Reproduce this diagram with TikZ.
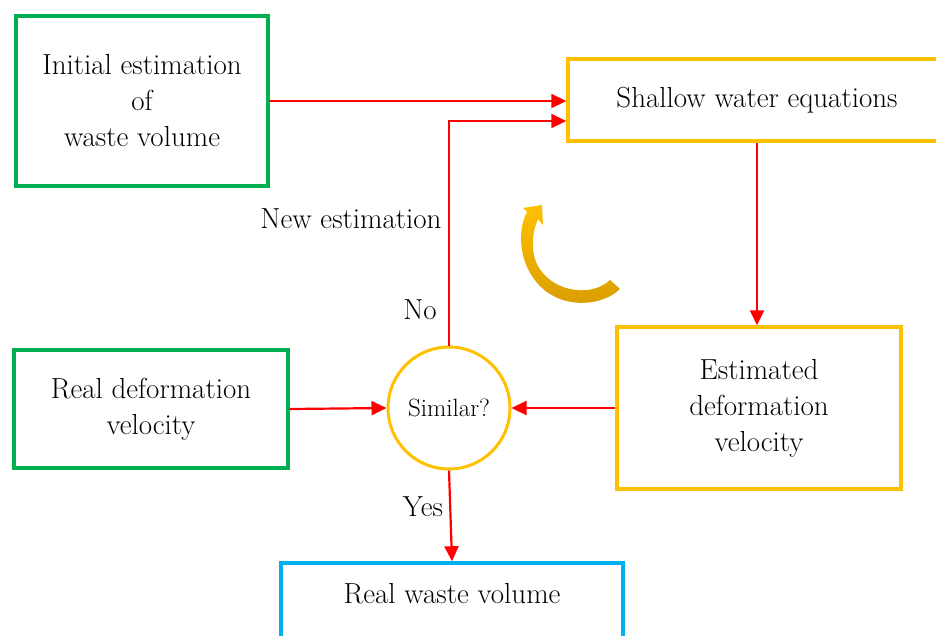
\documentclass[tikz,border=0pt]{standalone}
\usepackage{fontspec}
\usetikzlibrary{arrows.meta,calc}
\definecolor{grn}{RGB}{0,176,80}
\definecolor{org}{RGB}{255,192,0}
\definecolor{blu}{RGB}{0,176,240}
\definecolor{dgold}{RGB}{214,155,0}
\begin{document}
\begin{tikzpicture}[x=1pt,y=1pt,
 box/.style={draw, line width=3.5pt, rectangle, align=center, font=\fontsize{29}{36}\selectfont, inner sep=0pt},
 flow/.style={draw=red, line width=2.2pt, -{Triangle[length=15pt,width=14pt]}},
 lbl/.style={font=\fontsize{29}{30}\selectfont, inner sep=0pt}]
\useasboundingbox (0,0) rectangle (936,-635);

\node[box, draw=grn, minimum width=252, minimum height=170] (init) at (142,-101)
  {Initial estimation\\of\\waste volume};
\node[box, draw=org, minimum width=378, minimum height=82] (shallow) at (757,-100)
  {Shallow water equations};
\node[box, draw=org, minimum width=284, minimum height=162] (est) at (759,-408)
  {Estimated\\deformation\\velocity};
\node[box, draw=grn, minimum width=274, minimum height=118] (real) at (151,-409)
  {Real deformation\\velocity};
\node[draw=org, line width=3pt, circle, minimum size=122, inner sep=0pt,
  font=\fontsize{25}{28}\selectfont] (sim) at (449,-408) {Similar?};
\node[box, draw=blu, minimum width=342, minimum height=110] (wastebox) at (452,-618) {};
\node[lbl] (wastetext) at (452,-594) {Real waste volume};

\draw[flow] (init.east) -- (init.east -| shallow.west);
\draw[flow] (sim.north) |- ([yshift=-21pt]shallow.west);
\draw[flow] (shallow.south) -- (shallow.south |- est.north);
\draw[flow] (est.west) -- (sim.east);
\draw[flow] (real.east) -- (sim.west);
\draw[flow] (sim.south) -- (wastebox.north);

\node[lbl] (newest) at (351,-219) {New estimation};
\node[lbl] (no) at (420,-310) {No};
\node[lbl] (yes) at (423,-507) {Yes};

\shade[top color=org, bottom color=dgold, shading angle=0]
  (620,-289) .. controls (600,-309) and (544,-313) .. (525,-262)
  .. controls (519,-245) and (520,-225) .. (527,-212)
  -- (523,-208) -- (542,-205) -- (543,-225) -- (538,-219)
  .. controls (532,-232) and (531,-250) .. (536,-262)
  .. controls (548,-291) and (590,-299) .. (610,-280) -- cycle;
\end{tikzpicture}
\end{document}
